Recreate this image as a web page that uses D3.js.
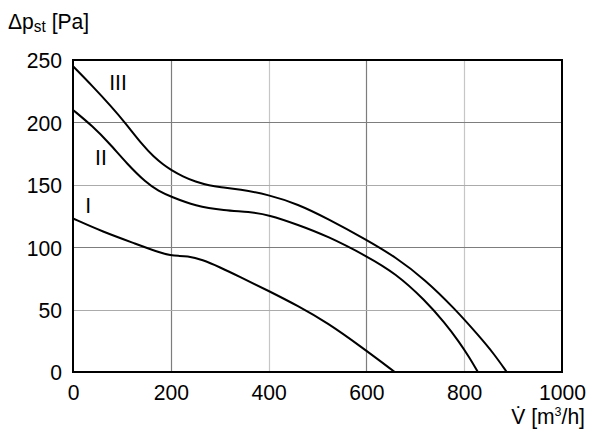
<!DOCTYPE html>
<html>
<head>
<meta charset="utf-8">
<script src="https://cdn.jsdelivr.net/npm/d3@7"></script>
<style>
  html, body { margin: 0; padding: 0; background: #fff; }
  svg { display: block; }
  text { font-family: "Liberation Sans", Arial, sans-serif; fill: #000; }
</style>
</head>
<body>
<svg id="chart" width="600" height="435"></svg>
<script>
// ---- data ----
const xTicks = [0, 200, 400, 600, 800, 1000];
const yTicks = [0, 50, 100, 150, 200, 250];

const curveNames = ["I", "II", "III"];

const curveI_x = [0, 60, 130, 178, 200, 215, 232, 265, 300, 340, 400, 460, 520, 590, 658];
const curveI_y = [123, 112.5, 102.5, 95.5, 93.5, 93, 93, 90, 84, 76.5, 65, 53, 39.5, 20, 0];

const curveII_x = [0, 40, 75, 110, 150, 175, 200, 250, 310, 360, 400, 460, 520, 600, 660, 720, 760, 790, 810, 828];
const curveII_y = [210, 197, 183, 167, 151.5, 145, 140.5, 133, 129.5, 128.3, 126, 118, 109, 93, 79, 57.5, 39.5, 24, 12, 0];

const curveIII_x = [0, 40, 80, 106, 144, 165, 185, 200, 225, 250, 280, 300, 340, 400, 460, 520, 600, 660, 720, 780, 830, 860, 887];
const curveIII_y = [245, 229, 212, 200, 181, 172.5, 166, 162, 156.5, 152.5, 149.3, 148.2, 146.6, 142, 134.5, 123, 106, 92, 74, 51, 29, 15, 0];

// label anchor points (data coords) for curve names
const labelX = [31, 57, 92];
const labelY = [134, 172, 232];

// ---- layout ----
const svg = d3.select("#chart");
const L = 73, R = 562, T = 60, B = 372;
const x = d3.scaleLinear().domain([0, 1000]).range([L, R]);
const y = d3.scaleLinear().domain([0, 250]).range([B, T]);

const FS = 22, SX = 0.96;

// grid
const darkX = new Set([200, 600]);
const darkY = new Set([100, 200]);
svg.append("g").selectAll("line").data(xTicks.filter(d => d > 0 && d < 1000)).join("line")
  .attr("x1", d => Math.round(x(d)) + 0.5).attr("x2", d => Math.round(x(d)) + 0.5)
  .attr("y1", T).attr("y2", B)
  .attr("stroke", d => darkX.has(d) ? "#7d7d7d" : "#c6c6c6").attr("stroke-width", 1.2);
svg.append("g").selectAll("line").data(yTicks.filter(d => d > 0 && d < 250)).join("line")
  .attr("x1", L).attr("x2", R)
  .attr("y1", d => Math.round(y(d)) + 0.5).attr("y2", d => Math.round(y(d)) + 0.5)
  .attr("stroke", d => darkY.has(d) ? "#7d7d7d" : "#ababab").attr("stroke-width", 1.2);

// axes (tick labels)
const xAxis = svg.append("g").attr("transform", `translate(0,${B})`)
  .call(d3.axisBottom(x).tickValues(xTicks).tickSize(0).tickPadding(0).tickFormat(d3.format("d")));
xAxis.select(".domain").remove();
xAxis.selectAll("text").attr("dy", null).attr("y", 0)
  .attr("transform", `translate(0,27.5) scale(${SX},1)`)
  .style("font-size", FS + "px").style("font-family", '"Liberation Sans", Arial, sans-serif').attr("fill", "#000");

const yAxis = svg.append("g").attr("transform", `translate(${L},0)`)
  .call(d3.axisLeft(y).tickValues(yTicks).tickSize(0).tickPadding(0).tickFormat(d3.format("d")));
yAxis.select(".domain").remove();
yAxis.selectAll("text").attr("dy", "0.36em").attr("x", 0)
  .attr("transform", `translate(-11,0) scale(${SX},1)`)
  .style("font-size", FS + "px").style("font-family", '"Liberation Sans", Arial, sans-serif').attr("fill", "#000");

// curves
const line = d3.line().x(d => x(d[0])).y(d => y(d[1])).curve(d3.curveBasis);
const series = [
  d3.zip(curveI_x, curveI_y),
  d3.zip(curveII_x, curveII_y),
  d3.zip(curveIII_x, curveIII_y)
];
svg.append("g").selectAll("path").data(series).join("path")
  .attr("d", line).attr("fill", "none").attr("stroke", "#000").attr("stroke-width", 2);

// frame
svg.append("rect").attr("x", L).attr("y", T).attr("width", R - L).attr("height", B - T)
  .attr("fill", "none").attr("stroke", "#000").attr("stroke-width", 2);

// curve labels
svg.append("g").selectAll("text").data(curveNames).join("text")
  .attr("transform", (d, i) => `translate(${x(labelX[i])},${y(labelY[i])}) scale(${SX},1)`)
  .attr("text-anchor", "middle").attr("dy", "0.36em")
  .style("font-size", FS + "px").text(d => d);

// y title
const yt = svg.append("text").attr("transform", `translate(8,29) scale(${SX},1)`).style("font-size", FS + "px");
yt.append("tspan").text("Δp");
yt.append("tspan").attr("dy", 3).style("font-size", "16px").text("st");
yt.append("tspan").attr("dy", -3).text(" [Pa]");

// x title
const xt = svg.append("text").attr("transform", `translate(585,424) scale(${SX},1)`)
  .attr("text-anchor", "end").style("font-size", FS + "px");
xt.append("tspan").text("V\u0307 [m");
xt.append("tspan").attr("dy", -8).style("font-size", "13px").text("3");
xt.append("tspan").attr("dy", 8).text("/h]");
</script>
</body>
</html>
